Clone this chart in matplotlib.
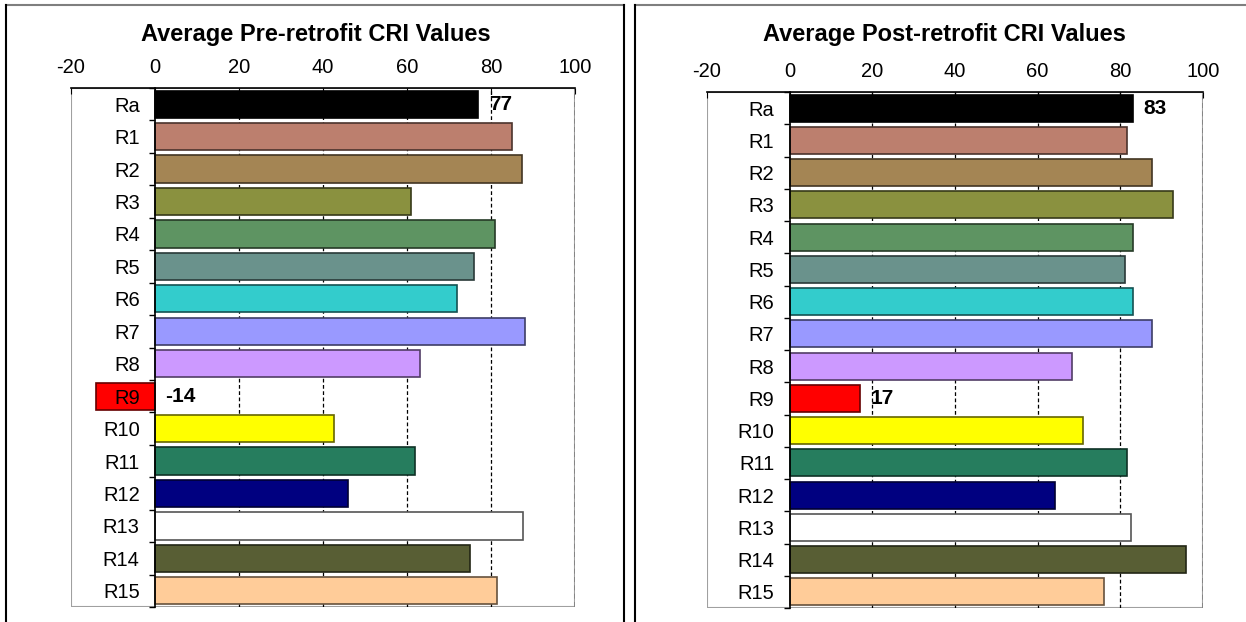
import numpy as np
import matplotlib.pyplot as plt
from matplotlib.lines import Line2D
from matplotlib.patches import Rectangle
from matplotlib.colors import to_rgb

plt.rcParams['font.family'] = ['Liberation Sans', 'DejaVu Sans']
plt.rcParams['axes.unicode_minus'] = False

labels = ['Ra', 'R1', 'R2', 'R3', 'R4', 'R5', 'R6', 'R7', 'R8', 'R9',
          'R10', 'R11', 'R12', 'R13', 'R14', 'R15']
pre_values = [77, 85, 87.3, 61, 81, 76, 72, 88, 63, -14, 42.5, 62, 46, 87.5, 75, 81.5]
post_values = [83, 81.7, 87.7, 92.7, 83, 81.2, 83, 87.7, 68.3, 17, 71, 81.7, 64.2, 82.5, 95.8, 76]
bar_colors = ['#000000', '#BC7F6E', '#A48554', '#8A913F', '#5E9462', '#6A928C',
              '#33CCCC', '#9999FF', '#CC99FF', '#FF0000', '#FFFF00', '#267D5E',
              '#000080', '#FFFFFF', '#585E34', '#FFCC99']
ticks = [-20, 0, 20, 40, 60, 80, 100]
annotate_idx = [0, 9]  # Ra and R9 get value labels


def edge_of(c):
    if c == '#FFFFFF':
        return '#555555'
    r, g, b = to_rgb(c)
    return (r * 0.4, g * 0.4, b * 0.4)


def draw_panel(ax, values, title, title_x):
    y = np.arange(len(labels))
    ax.barh(y, values, height=0.84, color=bar_colors,
            edgecolor=[edge_of(c) for c in bar_colors], linewidth=1.2, zorder=1.2)
    ax.set_axisbelow(False)
    ax.set_xlim(-20, 100)
    ax.set_ylim(len(labels) - 0.5, -0.5)
    ax.set_xticks(ticks)
    ax.xaxis.tick_top()
    ax.tick_params(axis='x', direction='in', length=4, pad=8, labelsize=14.5)
    ax.set_yticks(y)
    ax.set_yticklabels(labels)
    ax.set_yticks(np.arange(len(labels) + 1) - 0.5, minor=True)
    ax.tick_params(axis='y', which='major', length=0, pad=11, labelsize=14.5)
    ax.tick_params(axis='y', which='minor', length=4, direction='out', width=1)
    ax.spines['left'].set_position(('data', 0))
    ax.spines['left'].set_linewidth(1.2)
    ax.spines['top'].set_linewidth(1.2)
    for s in ['right', 'bottom']:
        ax.spines[s].set_visible(False)
    for v in [20, 40, 60, 80]:
        ax.axvline(v, color='black', lw=0.9, ls=(0, (3, 2)), zorder=1)
    ax.axvline(100, color='#808080', lw=1.2, ls=(0, (3, 2)), zorder=1)
    ax.add_patch(Rectangle((0, 0), 1, 1, transform=ax.transAxes, fill=False,
                           edgecolor='#A0A0A0', lw=1.5, zorder=0.5))
    for i in annotate_idx:
        v = values[i]
        ax.text(max(v, 0) + 2.5, i, f'{v:g}', va='center', ha='left',
                fontsize=15, fontweight='bold', zorder=3)
    fig.text(title_x, 0.945, title, ha='center', va='center',
             fontsize=17, fontweight='bold')


fig = plt.figure(figsize=(12.46, 6.22), dpi=100)

ax1 = fig.add_axes([71 / 1246, 1 - 607 / 622, 504 / 1246, 519 / 622])
ax2 = fig.add_axes([707 / 1246, 1 - 608 / 622, 496 / 1246, 516 / 622])

draw_panel(ax1, pre_values, 'Average Pre-retrofit CRI Values', 316 / 1246)
draw_panel(ax2, post_values, 'Average Post-retrofit CRI Values', 944 / 1246)


# outer frames around each chart
def fx(px):
    return px / 1246


def fy(px):
    return 1 - px / 622


for x0, x1, right in [(6, 624, True), (635, 1246, False)]:
    fig.add_artist(Line2D([fx(x0), fx(x1)], [fy(5), fy(5)], color='#7F7F7F', lw=1.5))
    fig.add_artist(Line2D([fx(x0), fx(x0)], [fy(5), 0], color='black', lw=1.5))
    if right:
        fig.add_artist(Line2D([fx(x1), fx(x1)], [fy(5), 0], color='black', lw=1.5))

fig.savefig('out.png', dpi=100)
